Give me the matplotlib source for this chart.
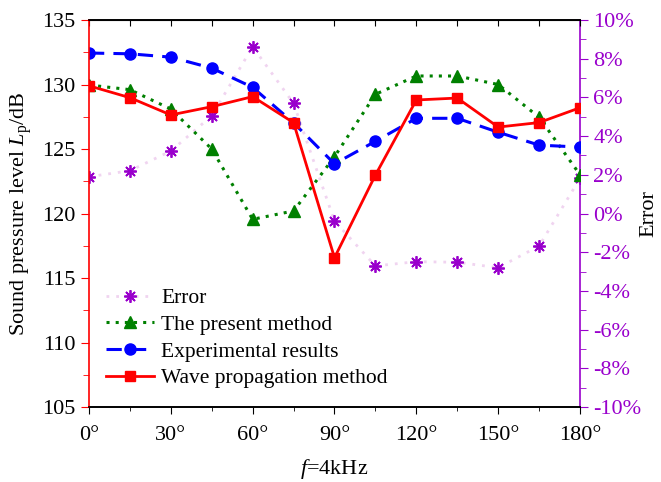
import numpy as np
import matplotlib.pyplot as plt
from matplotlib.ticker import MultipleLocator, FuncFormatter

plt.rcParams['font.family'] = 'Liberation Serif'
plt.rcParams['mathtext.fontset'] = 'custom'
plt.rcParams['mathtext.rm'] = 'Liberation Serif'
plt.rcParams['mathtext.it'] = 'Liberation Serif:italic'

#angles and the three sound pressure curves (dB)
angles = np.arange(0, 181, 15)
wave = [129.9, 128.98, 127.64, 128.28, 129.06, 127.04, 116.57, 122.98, 128.8, 128.95, 126.7, 127.05, 128.2]
experiment = [132.44, 132.38, 132.12, 131.27, 129.78, 127.03, 123.85, 125.6, 127.38, 127.38, 126.3, 125.3, 125.15]
present = [129.96, 129.6, 128.1, 125.0, 119.55, 120.2, 124.4, 129.24, 130.66, 130.66, 130.0, 127.46, 123.0]
#error in percent
error = [1.9, 2.21, 3.23, 5.05, 8.62, 5.69, -0.39, -2.71, -2.49, -2.52, -2.8, -1.68, 1.82]

red = '#ff0000'
blue = '#0000ff'
green = '#008000'
purple = '#9900cc'
fs = 16

fig = plt.figure(figsize=(6.61, 4.82), dpi=100)
ax = fig.add_axes([0.1346, 0.1556, 0.7429, 0.8029])
ax2 = ax.twinx()

#error on the right axis, faint dotted line
le, = ax2.plot(angles, error, color='#f0d4f0', lw=2, linestyle=(0, (1, 2.5)),
               marker=(8, 2, 0), markersize=9, markeredgecolor=purple,
               markerfacecolor=purple, markeredgewidth=1.3, label='Error')

lp, = ax.plot(angles, present, color=green, lw=2.2, linestyle=(0, (1, 2)),
              marker='^', markersize=9, label='The present method')
lx, = ax.plot(angles, experiment, color=blue, lw=2.2, linestyle=(0, (5, 3)),
              marker='o', markersize=8, label='Experimental results')
lw, = ax.plot(angles, wave, color=red, lw=2, marker='s', markersize=7,
              label='Wave propagation method')

ax.set_zorder(ax2.get_zorder() + 1)
ax.patch.set_visible(False)

ax.set_xlim(0, 180)
ax.set_ylim(105, 135)
ax2.set_ylim(-10, 10)

ax.xaxis.set_major_locator(MultipleLocator(30))
ax.xaxis.set_minor_locator(MultipleLocator(15))
ax.xaxis.set_major_formatter(FuncFormatter(lambda v, p: f'{int(v)}\u00b0'))
ax.yaxis.set_major_locator(MultipleLocator(5))
ax.yaxis.set_minor_locator(MultipleLocator(2.5))
ax2.yaxis.set_major_locator(MultipleLocator(2))
ax2.yaxis.set_minor_locator(MultipleLocator(1))
ax2.yaxis.set_major_formatter(FuncFormatter(lambda v, p: f'{int(round(v))}%'))

#top ticks point inward, bottom ticks outward
top = ax.secondary_xaxis('top')
top.xaxis.set_major_locator(MultipleLocator(15))
top.tick_params(direction='in', length=4, labeltop=False)

ax.tick_params(axis='x', which='both', direction='out', labelsize=fs, pad=9)
ax.tick_params(axis='x', which='major', length=5)
ax.tick_params(axis='x', which='minor', length=3)
ax.tick_params(axis='y', which='major', direction='out', colors=red, labelcolor='black',
               length=6, labelsize=fs)
ax.tick_params(axis='y', which='minor', direction='out', colors=red, length=4)
ax2.tick_params(axis='y', which='major', direction='out', colors=purple, length=6, labelsize=fs)
ax2.tick_params(axis='y', which='minor', direction='out', colors=purple, length=4)

ax.spines['left'].set_color(red)
ax2.spines['left'].set_visible(False)
ax.spines['right'].set_visible(False)
ax2.spines['right'].set_color(purple)
for sp in ['left', 'right', 'top', 'bottom']:
    ax.spines[sp].set_linewidth(1.2)
    ax2.spines[sp].set_linewidth(1.2)

ax.set_ylabel(r'Sound pressure level $L_{\rm p}$/dB', fontsize=fs, labelpad=6)
ax2.set_ylabel('Error', fontsize=fs)
ax2.yaxis.set_label_coords(1.121, 0.5)
ax.set_xlabel(r'$f$=4kHz', fontsize=fs, labelpad=8)

ax.legend(handles=[le, lp, lx, lw], loc='lower left', bbox_to_anchor=(0.005, 0.01),
          frameon=False, fontsize=15.5, handlelength=2.2, handletextpad=0.35,
          labelspacing=0.3, borderaxespad=0.3)

plt.savefig('out.png', dpi=100)
